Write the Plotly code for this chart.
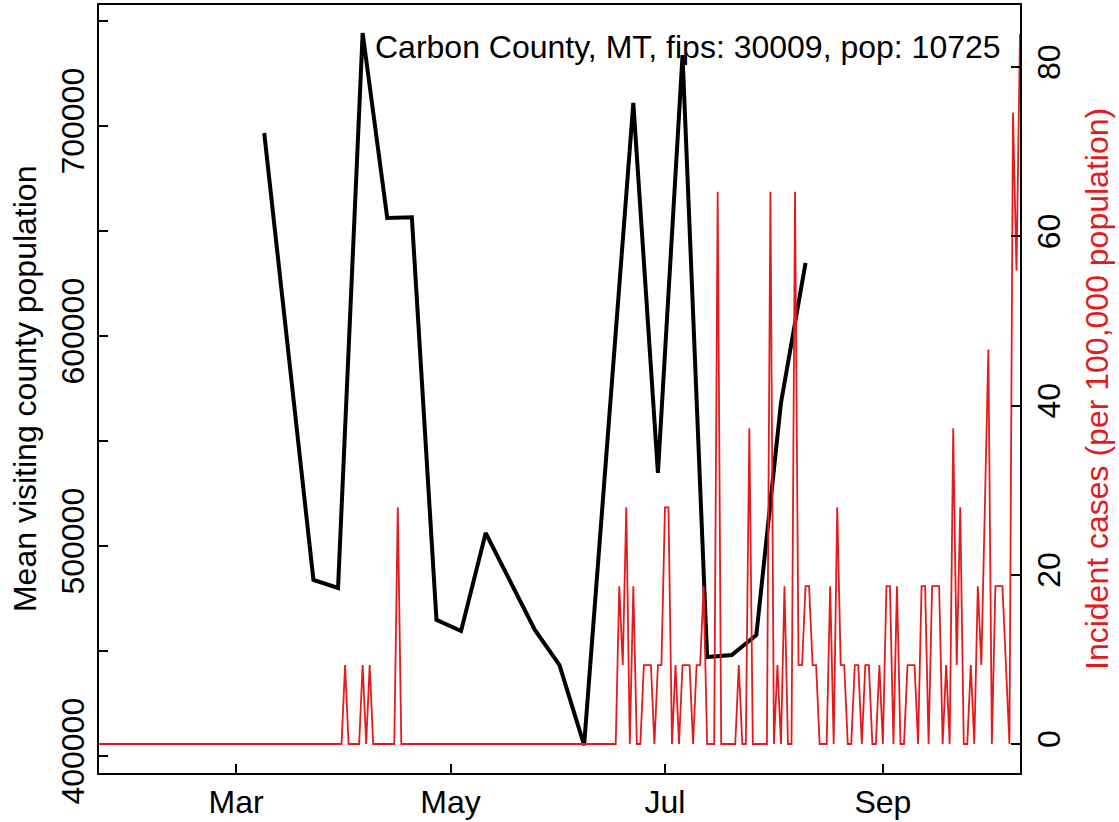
import plotly.graph_objects as go
import pandas as pd

# ---- data ----
title_text = "Carbon County, MT, fips: 30009, pop: 10725"
population = 10725

visit_dates = ["2020-03-09", "2020-03-16", "2020-03-23", "2020-03-30", "2020-04-06",
               "2020-04-13", "2020-04-20", "2020-04-27", "2020-05-04", "2020-05-11",
               "2020-05-18", "2020-05-25", "2020-06-01", "2020-06-08", "2020-06-15",
               "2020-06-22", "2020-06-29", "2020-07-06", "2020-07-13", "2020-07-20",
               "2020-07-27", "2020-08-03", "2020-08-10"]
visit_pop = [696700, 590000, 483800, 480000, 744300,
             656200, 656500, 464800, 459500, 506200,
             483300, 460000, 443300, 405200, 558100,
             711000, 534800, 733800, 447100, 448100,
             457600, 568100, 634800]

case_start = "2020-01-22"
case_end = "2020-10-10"
# daily new case counts, 2020-01-22 .. 2020-10-10
daily_cases = (
    [0] * 70 +                       # Jan 22 - Mar 31
    [1, 0, 0, 0, 0, 1, 0, 1, 0, 0, 0, 0, 0, 0, 0, 3] +   # Apr 1 - Apr 16
    [0] * 62 +                       # Apr 17 - Jun 17
    [2, 1, 3, 0, 2, 0, 0, 1, 1, 1,
     0, 1, 1, 3, 3, 0, 1, 0, 1, 1,
     1, 0, 1, 1, 2, 0, 0, 0, 7, 0,
     0, 0, 0, 0, 1, 0, 0, 4, 0, 0,
     0, 0, 0, 7, 0, 1, 0, 2, 0, 0,
     7, 1, 1, 2, 2, 1, 1, 0, 0, 0,
     2, 0, 3, 1, 1, 0, 0, 1, 1, 0,
     1, 1, 0, 0, 1, 0, 2, 2, 0, 2,
     0, 0, 1, 1, 1, 0, 2, 2, 0, 2,
     2, 2, 0, 1, 0, 4, 1, 3, 0, 0,
     1, 0, 2, 1, 3, 5, 0, 2, 2, 2,
     1, 0, 8, 6, 9]
)
case_dates = pd.date_range(case_start, case_end, freq="D")
incidence = [c / population * 100000 for c in daily_cases]

x_tick_vals = ["2020-03-01", "2020-05-01", "2020-07-01", "2020-09-01"]
x_tick_text = ["Mar", "May", "Jul", "Sep"]
left_tick_vals = [400000, 450000, 500000, 550000, 600000, 650000, 700000, 750000]
left_tick_text = ["400000", "", "500000", "", "600000", "", "700000", ""]
right_tick_vals = [0, 20, 40, 60, 80]

RED = "#E41A1C"
FONT = "Liberation Sans, Arial, sans-serif"
FS = 32

fig = go.Figure()
fig.add_trace(go.Scatter(x=visit_dates, y=visit_pop, mode="lines",
                         line=dict(color="black", width=4), yaxis="y",
                         showlegend=False))
fig.add_trace(go.Scatter(x=case_dates, y=incidence, mode="lines",
                         line=dict(color=RED, width=1.8), yaxis="y2",
                         showlegend=False))

axis_common = dict(showgrid=False, zeroline=False, showline=True, linecolor="black",
                   linewidth=2, ticks="inside", ticklen=9, tickwidth=2,
                   tickcolor="black", automargin=False,
                   tickfont=dict(family=FONT, size=FS, color="black"))

fig.update_layout(
    template="none",
    width=1119, height=822,
    margin=dict(l=99, r=99, t=5, b=49, autoexpand=False),
    paper_bgcolor="white", plot_bgcolor="white",
    xaxis=dict(type="date", range=[case_start, case_end],
               tickvals=x_tick_vals, ticktext=x_tick_text, mirror=True,
               **axis_common),
    yaxis=dict(range=[391905, 757619], tickvals=left_tick_vals,
               ticktext=left_tick_text, tickangle=-90, **axis_common),
    yaxis2=dict(range=[-3.43, 87.33], tickvals=right_tick_vals, overlaying="y",
                side="right", tickangle=-90, anchor="x", **axis_common),
    annotations=[
        dict(text=title_text, xref="paper", yref="paper", x=0.9815, y=0.9453,
             xanchor="right", yanchor="middle", showarrow=False,
             font=dict(family=FONT, size=FS, color="black")),
        dict(text="Mean visiting county population", xref="paper", yref="paper",
             x=-0.0803, y=0.5, xanchor="center", yanchor="middle", textangle=-90,
             showarrow=False, font=dict(family=FONT, size=FS, color="black")),
        dict(text="Incident cases (per 100,000 population)", xref="paper", yref="paper",
             x=1.0836, y=0.5, xanchor="center", yanchor="middle", textangle=-90,
             showarrow=False, font=dict(family=FONT, size=FS, color=RED)),
    ],
)

fig.write_html("out.html",
               config={"displayModeBar": False},
               post_script="document.body.style.margin='0px';"
                           "document.body.style.overflow='hidden';")
